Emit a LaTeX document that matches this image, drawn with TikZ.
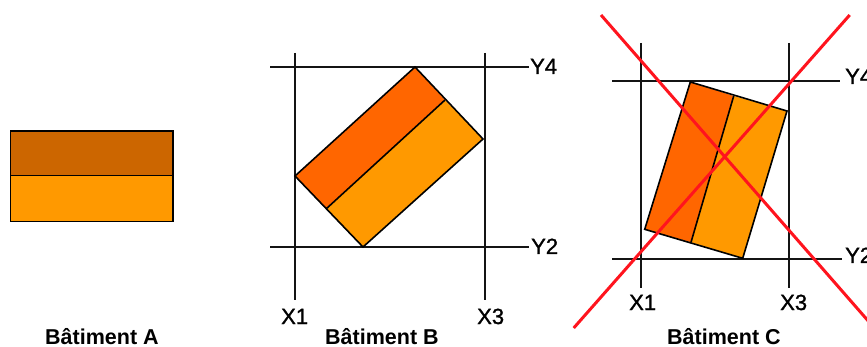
\documentclass[tikz,border=0pt]{standalone}
\usepackage{fontspec}
\setmainfont{Liberation Sans}
\newfontface\axisface[FakeBold=1.2]{Liberation Sans}
\definecolor{brownA}{RGB}{204,102,0}
\definecolor{darkO}{RGB}{255,102,0}
\definecolor{lightO}{RGB}{255,153,0}
\definecolor{redX}{RGB}{255,20,30}
\definecolor{gridK}{RGB}{20,20,20}
\tikzset{
  part/.style={draw=black,line width=1.6pt,line join=miter},
  gridline/.style={draw=gridK,line width=1.6pt},
  cross/.style={draw=redX,line width=3pt},
  axis/.style={inner sep=0pt,font=\axisface\fontsize{22}{22}\selectfont,anchor=base west},
  caption/.style={inner sep=0pt,font=\fontsize{21.5}{22}\selectfont\bfseries,anchor=base west}
}
\begin{document}
\begin{tikzpicture}[x=1pt,y=-1pt]
\useasboundingbox (0,0) rectangle (867,347);
\clip (0,0) rectangle (867,347);
% Batiment A
\fill[brownA] (10.5,131) rectangle (173,175.5);
\fill[lightO] (10.5,175.5) rectangle (173,221.5);
\draw[part] (10.5,131) rectangle (173,221.5);
\draw[part] (10.5,175.5) -- (173,175.5);
\node[caption] (capA) at (45,344) {Bâtiment A};
% Batiment B
\draw[gridline] (295,53) -- (295,300);
\draw[gridline] (485,53) -- (485,300);
\draw[gridline] (270,67) -- (529,67);
\draw[gridline] (270,247) -- (529,247);
\fill[lightO] (445,100) -- (483,139) -- (363,247) -- (326,209) -- cycle;
\fill[darkO] (415,67) -- (445,100) -- (326,209) -- (295,176) -- cycle;
\draw[part] (415,67) -- (483,139) -- (363,247) -- (295,176) -- cycle;
\draw[part] (445,100) -- (326,209);
\node[axis] (b4) at (530,74) {Y4};
\node[axis] (b2) at (531,254) {Y2};
\node[axis] (b1) at (281,324) {X1};
\node[axis] (b3) at (477,324) {X3};
\node[caption] (capB) at (325,344) {Bâtiment B};
% Batiment C
\draw[gridline] (641,43) -- (641,288);
\draw[gridline] (789,43) -- (789,288);
\draw[gridline] (612,81) -- (840,81);
\draw[gridline] (612,259) -- (842,259);
\fill[lightO] (733.7,96) -- (787,111) -- (742.7,258.3) -- (691,242.3) -- cycle;
\fill[darkO] (690.3,82) -- (733.7,96) -- (691,242.3) -- (644.7,229.3) -- cycle;
\draw[part] (690.3,82) -- (787,111) -- (742.7,258.3) -- (644.7,229.3) -- cycle;
\draw[part] (733.7,96) -- (691,242.3);
\node[axis] (c4) at (845,84) {Y4};
\node[axis] (c2) at (845,263) {Y2};
\node[axis] (c1) at (629,310) {X1};
\node[axis] (c3) at (780,310) {X3};
\node[caption] (capC) at (667,344) {Bâtiment C};
% croix
\draw[cross] (601,15) -- (870,323);
\draw[cross] (849.7,15) -- (573.7,328);
\end{tikzpicture}
\end{document}
